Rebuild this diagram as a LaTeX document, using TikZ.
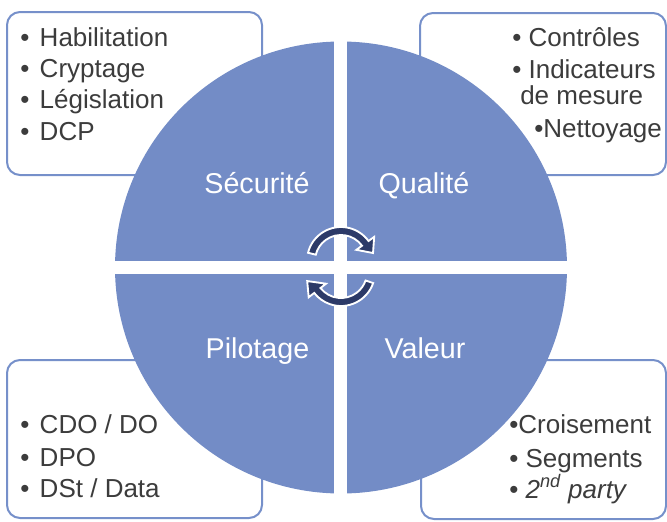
\documentclass[tikz,border=0pt]{standalone}
\usepackage{fontspec}
\setmainfont{Liberation Sans}
\definecolor{disque}{RGB}{115,140,198}
\definecolor{cadre}{RGB}{118,144,202}
\definecolor{fleche}{RGB}{44,58,104}
\definecolor{texte}{RGB}{60,60,60}
\newcommand{\puce}{\textbullet\hspace{0.4em}}

\begin{document}
\begin{tikzpicture}[x=0.75pt, y=0.75pt,
  cadrebox/.style={draw=cadre, line width=1.5pt, fill=white, rounded corners=9.75pt},
  item/.style={anchor=base west, inner sep=0pt, text=texte, font=\fontsize{19.5}{23}\selectfont},
  pole/.style={anchor=base, inner sep=0pt, text=white, font=\fontsize{21.5}{26}\selectfont},
  boucle/.style={fill=fleche, draw=white, line width=1.4pt, line join=miter}]
  \useasboundingbox (0,0) rectangle (667,-521);

  % cadres
  \draw[cadrebox] (7,-12) rectangle (262,-175);
  \draw[cadrebox] (420,-13) rectangle (666,-175);
  \draw[cadrebox] (7,-360) rectangle (262,-518);
  \draw[cadrebox] (421,-360) rectangle (666,-519);

  % disque en quatre parts
  \fill[disque] (341,-267.5) circle[radius=226];
  \fill[white] (334,-38) rectangle (347,-497);
  \fill[white] (112,-261) rectangle (570,-274);

  \node[pole] (securite) at (257,-193) {Sécurité};
  \node[pole] (qualite) at (424,-193) {Qualité};
  \node[pole] (pilotage) at (257.5,-358) {Pilotage};
  \node[pole] (valeur) at (425,-358) {Valeur};

  % fleches du cycle
  \begin{scope}[shift={(341,-261)}]
    \path[boucle] (166:34) arc[start angle=166, end angle=36, radius=34]
      -- (36:41) -- (14:33) -- (36:19) -- (36:26)
      arc[start angle=36, end angle=166, radius=26] -- cycle;
  \end{scope}
  \begin{scope}[shift={(341,-272)}]
    \path[boucle] (-19:34) arc[start angle=-19, end angle=-142, radius=34]
      -- (-142:41) -- (-165:35) -- (-142:19) -- (-142:26)
      arc[start angle=-142, end angle=-19, radius=26] -- cycle;
  \end{scope}

  % listes
  \node[item] (habilitation) at (20,-46) {\puce Habilitation};
  \node[item] (cryptage) at (20,-77) {\puce Cryptage};
  \node[item] (legislation) at (20,-108) {\puce Législation};
  \node[item] (dcp) at (20,-140) {\puce DCP};

  \node[item] (controles) at (512,-46) {\textbullet\ Contrôles};
  \node[item] (indicateurs) at (512,-78) {\textbullet\ Indicateurs};
  \node[item] (mesure) at (520,-104) {de mesure};
  \node[item] (nettoyage) at (534,-137) {\textbullet Nettoyage};

  \node[item] (cdo) at (20,-433) {\puce CDO / DO};
  \node[item] (dpo) at (20,-466) {\puce DPO};
  \node[item] (dst) at (20,-497) {\puce DSt / Data};

  \node[item] (croisement) at (509,-433) {\textbullet Croisement};
  \node[item] (segments) at (509,-467) {\textbullet\ Segments};
  \node[item] (party) at (509,-498) {\textbullet\ \textit{2\textsuperscript{nd} party}};
\end{tikzpicture}
\end{document}
